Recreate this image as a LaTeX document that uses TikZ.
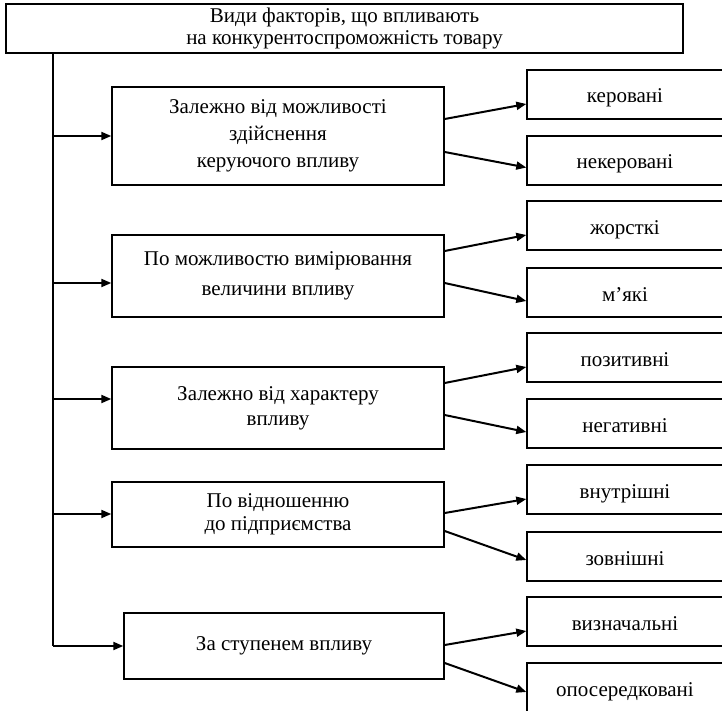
\documentclass[tikz,border=0pt]{standalone}
\usepackage{fontspec}
\setmainfont{Liberation Serif}
\usetikzlibrary{arrows.meta,calc}
\begin{document}
\begin{tikzpicture}[x=1pt,y=-1pt,
  box/.style={draw,line width=1.4pt,rectangle,inner sep=0pt,align=center,
    font=\fontsize{21}{22}\selectfont},
  midbox/.style={box,minimum width=332pt},
  rbox/.style={box,minimum width=196pt,minimum height=49pt,text height=17pt,text depth=0pt},
  arr/.style={line width=2pt,-{Triangle[length=10pt,width=8pt]}},
  trunk/.style={line width=1.5pt}]
\useasboundingbox (0,0) rectangle (722,711);
\node[box,minimum width=677pt,minimum height=49pt] (top) at (344.5,28.5)
  {Види факторів, що впливають\\на конкурентоспроможність товару};
\node[midbox,minimum height=98pt] (m1) at (278,136)
  {Залежно від можливості\\[5pt]здійснення\\[5pt]керуючого впливу};
\node[midbox,minimum height=82pt] (m2) at (278,276)
  {По можливостю вимірювання\\[8pt]величини впливу};
\node[midbox,minimum height=82pt] (m3) at (278,408)
  {Залежно від характеру\\[3pt]впливу};
\node[midbox,minimum height=65pt] (m4) at (278,514.5)
  {По відношенню\\[1pt]до підприємства};
\node[box,minimum width=320pt,minimum height=66pt] (m5) at (284,646)
  {За ступенем впливу};
\node[rbox] (r1) at (625,94.5) {керовані};
\node[rbox] (r2) at (625,160.5) {некеровані};
\node[rbox] (r3) at (625,225.5) {жорсткі};
\node[rbox] (r4) at (625,292.5) {м’які};
\node[rbox] (r5) at (625,357.5) {позитивні};
\node[rbox] (r6) at (625,423.5) {негативні};
\node[rbox] (r7) at (625,489.5) {внутрішні};
\node[rbox] (r8) at (625,556.5) {зовнішні};
\node[rbox] (r9) at (625,621.5) {визначальні};
\node[rbox] (r10) at (625,687.5) {опосередковані};
% trunk
\coordinate (t0) at (53,53);
\coordinate (t1) at (53,136);
\coordinate (t2) at (53,283);
\coordinate (t3) at (53,399);
\coordinate (t4) at (53,514);
\coordinate (t5) at (53,646);
\draw[trunk] (t0) -- (t5);
\draw[arr] (t1) -- (t1 -| m1.west);
\draw[arr] (t2) -- (t2 -| m2.west);
\draw[arr] (t3) -- (t3 -| m3.west);
\draw[arr] (t4) -- (t4 -| m4.west);
\draw[arr] (t5) -- (t5 -| m5.west);
% branches
\draw[arr] ($(m1.east)+(0,-17)$) -- ($(r1.west)+(0,9.5)$);
\draw[arr] ($(m1.east)+(0,16)$) -- ($(r2.west)+(0,7)$);
\draw[arr] ($(m2.east)+(0,-25)$) -- ($(r3.west)+(0,9.5)$);
\draw[arr] ($(m2.east)+(0,7)$) -- ($(r4.west)+(0,8.5)$);
\draw[arr] ($(m3.east)+(0,-25)$) -- ($(r5.west)+(0,9.5)$);
\draw[arr] ($(m3.east)+(0,7)$) -- ($(r6.west)+(0,8.5)$);
\draw[arr] ($(m4.east)+(0,-1.5)$) -- ($(r7.west)+(0,9.5)$);
\draw[arr] ($(m4.east)+(0,16.5)$) -- ($(r8.west)+(0,3.5)$);
\draw[arr] ($(m5.east)+(0,-1)$) -- ($(r9.west)+(0,9.5)$);
\draw[arr] ($(m5.east)+(0,17)$) -- ($(r10.west)+(0,4.5)$);
\end{tikzpicture}
\end{document}
